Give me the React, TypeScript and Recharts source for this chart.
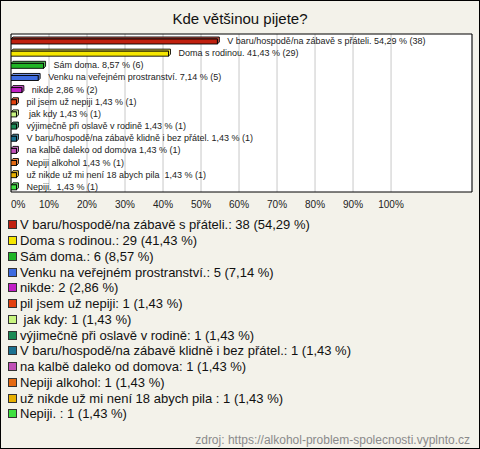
import React from 'react';
import { BarChart, Bar, XAxis, YAxis, CartesianGrid, ReferenceArea, LabelList, Cell } from 'recharts';

const title = 'Kde většinou pijete?';
const source = 'zdroj: https://alkohol-problem-spolecnosti.vyplnto.cz';

const categories = [
  'V baru/hospodě/na zábavě s přáteli.',
  'Doma s rodinou.',
  'Sám doma.',
  'Venku na veřejném prostranství.',
  'nikde',
  'pil jsem už nepiji',
  ' jak kdy',
  'výjimečně při oslavě v rodině',
  'V baru/hospodě/na zábavě klidně i bez přátel.',
  'na kalbě daleko od domova',
  'Nepiji alkohol',
  'už nikde už mi není 18 abych pila ',
  'Nepiji. ',
];
const counts = [38, 29, 6, 5, 2, 1, 1, 1, 1, 1, 1, 1, 1];
const percents = [54.29, 41.43, 8.57, 7.14, 2.86, 1.43, 1.43, 1.43, 1.43, 1.43, 1.43, 1.43, 1.43];
const colors = [
  '#c0200f', '#f5e600', '#20b526', '#3d6be0', '#c21fc7', '#e3410f', '#c8f57f',
  '#1a8a55', '#1a7090', '#c050b8', '#e56a12', '#e8b000', '#3fe040',
];
const xTicks = [0, 10, 20, 30, 40, 50, 60, 70, 80, 90, 100];
const xMax = 121.3;

const fmt = (p: number) => p.toFixed(2).replace('.', ',');

const data = categories.map((name, i) => ({
  name: 'c' + i,
  value: percents[i],
  color: colors[i],
  label: `${name} ${fmt(percents[i])} % (${counts[i]})`,
}));

function lighten(hex: string, f: number) {
  const n = parseInt(hex.slice(1), 16);
  const r = (n >> 16) & 255, g = (n >> 8) & 255, b = n & 255;
  const m = (c: number) => Math.round(c + (255 - c) * f);
  return `rgb(${m(r)},${m(g)},${m(b)})`;
}

const Bar3D = (props: any) => {
  const { x, y, width, height } = props;
  const color = props.payload?.color ?? props.fill;
  const d = 2;
  const yy = y + 1;
  const pts = [
    [x, yy], [x + d, yy - d], [x + width + d, yy - d], [x + width + d, yy + height - d],
    [x + width, yy + height], [x + width, yy],
  ].map((p) => p.join(',')).join(' ');
  return (
    <g>
      <polygon points={pts} fill={lighten(color, 0.25)} stroke="#000" strokeWidth={0.9} />
      <rect x={x} y={yy} width={width} height={height} fill={color} stroke="#000" strokeWidth={0.9} />
    </g>
  );
};

const BarLabel = (props: any) => {
  const { x, y, width, height, value } = props;
  return (
    <text x={x + width + 10} y={y + height / 2 + 3.5} fontSize={9} fill="#222"
      style={{ whiteSpace: 'pre' }} fontFamily='"Liberation Sans", Arial, sans-serif'>
      {value}
    </text>
  );
};

const Tick = (props: any) => {
  const { x, y, payload } = props;
  const v = payload.value;
  return (
    <text x={x} y={y + 8} textAnchor={v === 0 ? 'start' : 'middle'} fontSize={10} fill="#222"
      fontFamily='"Liberation Sans", Arial, sans-serif'>
      {v}%
    </text>
  );
};

export default function App() {
  return (
    <div style={{
      position: 'absolute', left: 0, top: 0, width: 480, height: 449, boxSizing: 'border-box',
      border: '1px solid #000', background: '#f3f2ea', overflow: 'hidden',
      fontFamily: '"Liberation Sans", Arial, sans-serif',
    }}>
      <div style={{ position: 'absolute', left: -1, top: -1, width: 480, height: 449 }}>
        <div style={{ position: 'absolute', left: 0, top: 10, width: 480, textAlign: 'center', fontSize: 15, lineHeight: '17px', color: '#111' }}>
          {title}
        </div>
        <div style={{ position: 'absolute', left: 0, top: 0 }}>
          <BarChart width={480} height={215} data={data} layout="vertical"
            margin={{ top: 34, right: 8, left: 11, bottom: 0 }}>
            <CartesianGrid horizontal={false} vertical={true} stroke="#c8c8c8" fill="#ffffff" />
            <XAxis type="number" domain={[0, xMax]} ticks={xTicks} axisLine={false} tickLine={false}
              height={23} tick={<Tick />} interval={0} allowDataOverflow />
            <YAxis type="category" dataKey="name" hide />
            <ReferenceArea x1={0} x2={xMax} fill="none" stroke="#000" strokeWidth={1} ifOverflow="visible" />
            <Bar dataKey="value" barSize={5} isAnimationActive={false} shape={<Bar3D />}>
              {data.map((d, i) => <Cell key={i} fill={d.color} />)}
              <LabelList dataKey="label" content={<BarLabel />} />
            </Bar>
          </BarChart>
        </div>
        <div style={{ position: 'absolute', left: 8, top: 217 }}>
          {categories.map((name, i) => (
            <div key={i} style={{ height: 15.75, display: 'flex', alignItems: 'center', fontSize: 13, color: '#111', whiteSpace: 'pre' }}>
              <span style={{ display: 'inline-block', width: 9, height: 9, boxSizing: 'border-box', border: '1px solid #333', background: colors[i], marginRight: 3 }} />
              <span>{`${name}: ${counts[i]} (${fmt(percents[i])} %)`}</span>
            </div>
          ))}
        </div>
        <div style={{ position: 'absolute', right: 10, top: 433, fontSize: 12, lineHeight: '14px', color: '#8a8a8a' }}>
          {source}
        </div>
      </div>
    </div>
  );
}
